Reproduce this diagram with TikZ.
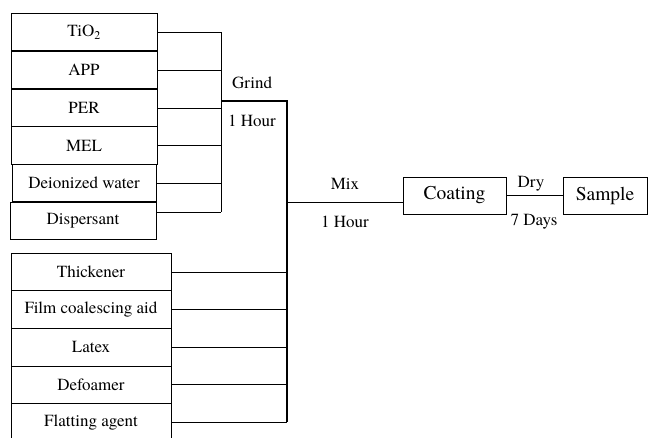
\documentclass[tikz,border=0pt]{standalone}
\usepackage{fontspec}
\setmainfont{TeX Gyre Termes}
\begin{document}
\begin{tikzpicture}[x=1pt,y=-1pt,
 box/.style={draw, line width=1pt, inner sep=0pt, font=\fontsize{17}{20}\selectfont},
 big/.style={draw, line width=1pt, inner sep=0pt, font=\fontsize{19.5}{22}\selectfont},
 lbl/.style={inner sep=0pt, font=\fontsize{17}{20}\selectfont},
 thinline/.style={line width=1pt},
 boldline/.style={line width=2pt}]
\useasboundingbox (0,0) rectangle (648,437);
% top group
\node[box, minimum width=146pt, minimum height=37.8pt] (tio) at (84,32) {TiO\textsubscript{2}};
\node[box, minimum width=146pt, minimum height=37.8pt] (app) at (84,70) {APP};
\node[box, minimum width=146pt, minimum height=37.8pt] (per) at (84,108) {PER};
\node[box, minimum width=146pt, minimum height=37.8pt] (mel) at (84,145.5) {MEL};
\node[box, minimum width=144pt, minimum height=37.8pt] (dw) at (84,183) {Deionized water};
\node[box, minimum width=146pt, minimum height=37.8pt] (disp) at (83,221) {Dispersant};
% bottom group
\node[box, minimum width=160pt, minimum height=37.6pt] (thk) at (91,272) {Thickener};
\node[box, minimum width=160pt, minimum height=37.6pt] (film) at (91,309.6) {Film coalescing aid};
\node[box, minimum width=160pt, minimum height=37.6pt] (latex) at (91,347.2) {Latex};
\node[box, minimum width=160pt, minimum height=37.6pt] (defo) at (91,384.8) {Defoamer};
\node[box, minimum width=160pt, minimum height=37.6pt] (flat) at (91,422.4) {Flatting agent};
% right side
\node[big, minimum width=103pt, minimum height=37pt] (coat) at (454.5,195.5) {Coating};
\node[big, minimum width=84pt, minimum height=37pt] (samp) at (605,195.5) {Sample};
% junction coordinates
\coordinate (gj) at (221,101);
\coordinate (mj) at (287,101);
\coordinate (dspout) at (156,212);
\coordinate (mixpt) at (287,202);
% grind connectors
\foreach \n in {tio,app,per,mel,dw}
  \draw[thinline] (\n.east) -- (\n.east -| gj);
\draw[thinline] (dspout) -- (dspout -| gj);
\draw[thinline] (tio.east -| gj) -- (dspout -| gj);
\draw[boldline] (gj) -- (mj) -- (flat.east -| mj);
% bottom connectors
\foreach \n in {thk,film,latex,defo,flat}
  \draw[thinline] (\n.east) -- (\n.east -| mj);
% mix and dry
\draw[thinline] (mixpt) -- (mixpt -| coat.west);
\draw[thinline] (coat.east) -- (samp.west);
% labels
\node[lbl] (grind) at (252,83) {Grind};
\node[lbl] (ghour) at (252,121) {1 Hour};
\node[lbl] (mix) at (345,184) {Mix};
\node[lbl] (mhour) at (345,222) {1 Hour};
\node[lbl] (dry) at (531,184) {Dry};
\node[lbl] (days) at (534,222) {7 Days};
\end{tikzpicture}
\end{document}
